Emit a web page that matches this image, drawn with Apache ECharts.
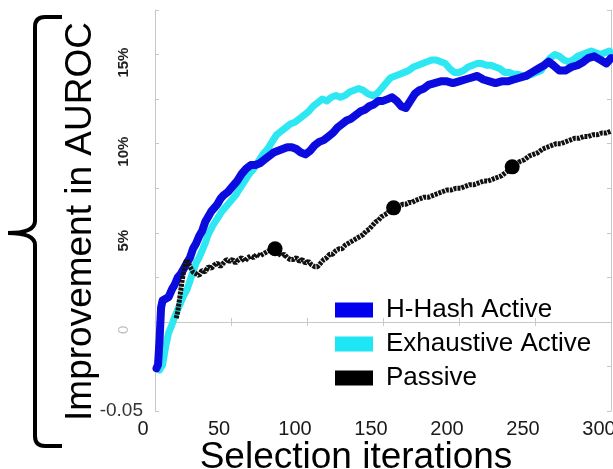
<!DOCTYPE html>
<html>
<head>
<meta charset="utf-8">
<script src="https://cdn.jsdelivr.net/npm/echarts@6/dist/echarts.min.js"></script>
<style>
html,body{margin:0;padding:0;background:#fff;}
#c{width:613px;height:469px;}
</style>
</head>
<body>
<div id="c"></div>
<script>
// ---- data ----
var xTickLabels = ['0','50','100','150','200','250','300'];
var yTickLabels = {'0':'{z|0}','0.05':'5%','0.1':'10%','0.15':'15%'};
var yBottomLabel = '-0.05';
var seriesNames = ['H-Hash Active','Exhaustive Active','Passive'];

var hHashActive = [
[1,-0.026],[2,-0.024],[3,-0.01],[4,0.008],[5,0.012],[7,0.013],[9,0.014],[11,0.018],[13,0.021],[15,0.025],
[17,0.027],[19,0.030],[21,0.033],[23,0.036],[25,0.041],[27,0.044],[29,0.048],[31,0.051],[33,0.056],[35,0.059],
[37,0.062],[39,0.064],[41,0.066],[43,0.069],[45,0.071],[48,0.073],[51,0.076],[54,0.079],[57,0.083],[60,0.086],
[63,0.088],[66,0.088],[69,0.089],[72,0.091],[75,0.093],[78,0.095],[81,0.096],[84,0.097],[87,0.098],[90,0.098],
[93,0.097],[96,0.095],[99,0.094],[102,0.096],[105,0.099],[108,0.101],[111,0.102],[114,0.104],[117,0.106],[120,0.109],
[123,0.111],[126,0.113],[129,0.114],[132,0.116],[135,0.118],[138,0.119],[141,0.121],[144,0.122],[147,0.124],[150,0.124],
[153,0.125],[156,0.126],[159,0.124],[162,0.121],[165,0.120],[168,0.124],[171,0.128],[174,0.130],[177,0.131],[180,0.133],
[184,0.134],[188,0.135],[192,0.135],[196,0.134],[200,0.135],[204,0.136],[208,0.137],[212,0.138],[216,0.136],[220,0.135],
[224,0.134],[228,0.135],[232,0.135],[236,0.136],[240,0.137],[244,0.138],[248,0.140],[252,0.142],[256,0.144],[259,0.146],
[262,0.144],[266,0.141],[270,0.141],[274,0.143],[278,0.144],[282,0.146],[285,0.148],[289,0.149],[293,0.147],[297,0.145],[300,0.148]
];

var exhaustiveActive = [
[3,-0.027],[5,-0.024],[7,-0.014],[9,-0.006],[11,-0.002],[13,0.003],[15,0.007],[17,0.011],[19,0.015],[21,0.018],
[23,0.023],[25,0.028],[27,0.033],[29,0.036],[31,0.040],[33,0.044],[35,0.049],[38,0.054],[41,0.058],[44,0.062],
[47,0.065],[50,0.068],[53,0.071],[56,0.075],[59,0.079],[62,0.083],[65,0.086],[68,0.090],[71,0.094],[74,0.097],
[77,0.101],[80,0.105],[83,0.107],[86,0.109],[89,0.111],[92,0.112],[95,0.114],[98,0.116],[101,0.118],[104,0.121],
[107,0.123],[110,0.125],[113,0.124],[116,0.126],[119,0.127],[122,0.126],[125,0.127],[128,0.129],[131,0.130],[134,0.131],
[137,0.130],[140,0.128],[143,0.127],[146,0.128],[149,0.131],[152,0.134],[155,0.137],[158,0.138],[161,0.139],[164,0.140],
[167,0.141],[170,0.143],[173,0.144],[176,0.145],[179,0.146],[182,0.147],[185,0.147],[188,0.146],[191,0.145],[194,0.142],
[197,0.140],[200,0.140],[203,0.141],[206,0.143],[209,0.144],[212,0.145],[215,0.145],[218,0.144],[221,0.144],[224,0.143],
[227,0.142],[230,0.140],[233,0.140],[236,0.139],[239,0.139],[242,0.138],[245,0.138],[248,0.139],[251,0.140],[254,0.141],
[257,0.145],[260,0.148],[263,0.150],[266,0.149],[269,0.147],[272,0.146],[275,0.147],[278,0.149],[281,0.150],[284,0.151],
[287,0.152],[290,0.151],[293,0.150],[296,0.151],[299,0.152],[300,0.150]
];

var passive = [
[14,0.002],[15,0.006],[16,0.012],[17,0.018],[18,0.024],[19,0.029],[20,0.033],[21,0.035],[23,0.031],[25,0.028],
[27,0.027],[29,0.026],[31,0.029],[33,0.028],[35,0.031],[37,0.030],[39,0.032],[41,0.033],[43,0.031],[45,0.033],
[47,0.035],[49,0.034],[51,0.035],[53,0.033],[55,0.035],[57,0.036],[59,0.034],[61,0.036],[63,0.037],[65,0.036],
[67,0.038],[69,0.037],[71,0.038],[73,0.039],[75,0.040],[77,0.039],[79,0.041],[81,0.039],[83,0.037],[85,0.038],
[87,0.036],[89,0.035],[91,0.035],[93,0.036],[95,0.034],[97,0.035],[99,0.033],[101,0.034],[103,0.032],[105,0.031],
[107,0.031],[109,0.033],[111,0.035],[113,0.036],[115,0.038],[117,0.038],[119,0.040],[121,0.041],[123,0.041],[125,0.043],
[127,0.044],[129,0.045],[131,0.046],[133,0.047],[135,0.048],[137,0.049],[139,0.051],[141,0.052],[143,0.054],[145,0.056],
[147,0.057],[149,0.059],[151,0.060],[153,0.061],[155,0.063],[157,0.064],[159,0.064],[161,0.065],[163,0.066],[165,0.066],
[167,0.067],[169,0.067],[171,0.068],[174,0.069],[177,0.070],[180,0.070],[183,0.071],[186,0.072],[189,0.073],[192,0.074],
[195,0.074],[198,0.075],[201,0.075],[204,0.076],[207,0.077],[210,0.077],[213,0.078],[216,0.079],[219,0.079],[222,0.080],
[225,0.081],[228,0.082],[231,0.084],[234,0.086],[237,0.088],[240,0.090],[243,0.091],[246,0.093],[249,0.094],[252,0.095],
[255,0.097],[258,0.098],[261,0.099],[264,0.100],[267,0.100],[270,0.101],[273,0.102],[276,0.103],[279,0.103],[282,0.104],
[285,0.104],[288,0.105],[291,0.105],[294,0.106],[297,0.106],[300,0.107]
];

var passiveMarkers = [[79,0.041],[157,0.064],[235,0.087]];

// ---- chart ----
var FONT = "'Liberation Sans', Arial, sans-serif";
var AX = '#c8c8c8';
var chart = echarts.init(document.getElementById('c'), null, {renderer:'canvas'});

function fmtY(v){
  var k = String(Math.round(v*1000)/1000);
  return yTickLabels.hasOwnProperty(k) ? yTickLabels[k] : '';
}

var braceStyle = {stroke:'#000', lineWidth:4, fill:'none'};
function seg(x1,y1,x2,y2){ return {type:'line', silent:true, shape:{x1:x1,y1:y1,x2:x2,y2:y2}, style:braceStyle}; }
function crv(x1,y1,cx,cy,x2,y2){ return {type:'bezierCurve', silent:true, shape:{x1:x1,y1:y1,cpx1:cx,cpy1:cy,x2:x2,y2:y2}, style:braceStyle}; }

var option = {
  animation:false,
  backgroundColor:'#fff',
  textStyle:{fontFamily:FONT},
  grid:{left:155, top:10, right:2, bottom:58, containLabel:false, outerBoundsMode:'none'},
  legend:{
    data:seriesNames, orient:'vertical', left:330, top:292,
    icon:'rect', itemWidth:38, itemHeight:15, itemGap:8,
    textStyle:{fontSize:26, color:'#000', fontFamily:FONT, padding:[0,0,0,8]}
  },
  xAxis:[{
    type:'value', min:0, max:300, interval:50, position:'bottom',
    axisLine:{show:true, lineStyle:{color:AX, width:1}},
    axisTick:{show:true, inside:true, length:4, lineStyle:{color:AX}},
    splitLine:{show:false},
    axisLabel:{fontSize:20, color:'#1a1a1a', margin:8, padding:[0,24,0,0], hideOverlap:false,
      formatter:function(v){ var i = Math.round(v/50); return xTickLabels[i] || ''; }},
    name:'Selection iterations', nameLocation:'middle', nameGap:28, nameMoveOverlap:false,
    nameTextStyle:{fontSize:37, color:'#000', padding:[0,54,0,0]}
  },{
    type:'value', min:0, max:300, interval:50, position:'top',
    axisLine:{show:true, lineStyle:{color:AX, width:1}},
    axisTick:{show:true, inside:true, length:4, lineStyle:{color:AX}},
    axisLabel:{show:false}, splitLine:{show:false}
  }],
  yAxis:[{
    type:'value', min:-0.05, max:0.175, interval:0.025, position:'left',
    axisLine:{show:true, lineStyle:{color:AX, width:1}},
    axisTick:{show:true, inside:true, length:4, lineStyle:{color:AX}},
    splitLine:{show:false},
    axisLabel:{rotate:90, fontSize:15, fontWeight:'bold', color:'#222', margin:24, padding:[0,16,0,0], formatter:fmtY,
      rich:{z:{fontSize:15, color:'#c0c0c0', fontWeight:'normal'}}},
    name:'Improvement in AUROC', nameLocation:'middle', nameGap:56, nameRotate:90, nameMoveOverlap:false,
    nameTextStyle:{fontSize:37, color:'#000', padding:[0,22,0,0]}
  },{
    type:'value', min:-0.05, max:0.175, interval:0.025, position:'left',
    axisLine:{show:false}, axisTick:{show:false}, splitLine:{show:false},
    axisLabel:{fontSize:19, color:'#333', margin:12, padding:[6,0,0,0],
      formatter:function(v){ return Math.abs(v+0.05)<1e-6 ? yBottomLabel : ''; }}
  },{
    type:'value', min:-0.05, max:0.175, interval:0.025, position:'right',
    axisLine:{show:true, lineStyle:{color:AX, width:1}},
    axisTick:{show:true, inside:true, length:4, lineStyle:{color:AX}},
    axisLabel:{show:false}, splitLine:{show:false}
  }],
  graphic:[{
    type:'group', silent:true, z:10,
    children:[
      seg(62,17,45,17), crv(45,17,35,17,35,27), seg(35,27,35,221),
      crv(35,221,35,233,8,233), crv(8,233,35,233,35,245),
      seg(35,245,35,436), crv(35,436,35,446,45,446), seg(45,446,62,446)
    ]
  }],
  series:[{
    name:seriesNames[1], type:'line', data:exhaustiveActive, showSymbol:false, symbol:'none', z:2,
    itemStyle:{color:'#1ee6f5'},
    lineStyle:{color:'#2de8f2', width:7, cap:'round', join:'round'}
  },{
    name:seriesNames[0], type:'line', data:hHashActive, showSymbol:false, symbol:'none', z:3,
    itemStyle:{color:'#0000ee'},
    lineStyle:{color:'#0b0be0', width:8, cap:'round', join:'round'}
  },{
    name:seriesNames[2], type:'line', data:passive, showSymbol:false, symbol:'none', z:4,
    itemStyle:{color:'#000'},
    lineStyle:{color:'#111', width:5, type:[3,1]}
  },{
    name:'passive-markers', type:'scatter', data:passiveMarkers, symbol:'circle', symbolSize:15, z:5,
    itemStyle:{color:'#000', opacity:1}
  }]
};
chart.setOption(option);
</script>
</body>
</html>
